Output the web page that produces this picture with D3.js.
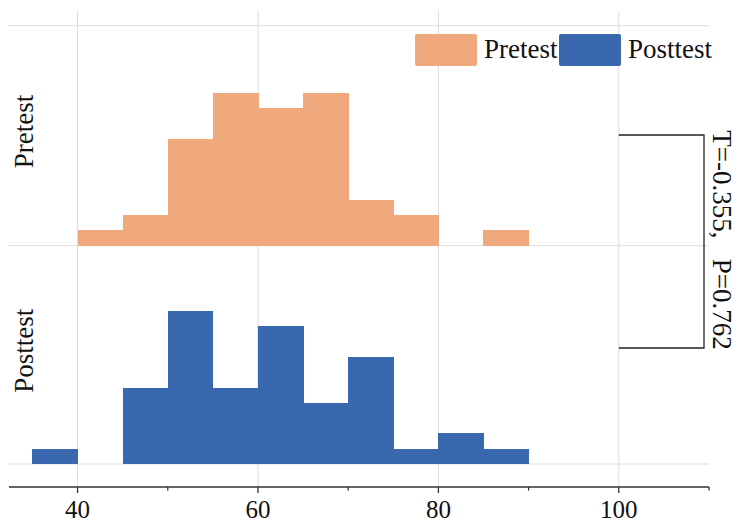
<!DOCTYPE html>
<html>
<head>
<meta charset="utf-8">
<script src="https://cdn.jsdelivr.net/npm/d3@7"></script>
<style>
  html, body { margin: 0; padding: 0; background: #fff; }
  svg { display: block; }
  text { font-family: "Liberation Serif", "Times New Roman", serif; fill: #111; }
</style>
</head>
<body>
<svg id="chart" width="737" height="524"></svg>
<script>
// Histogram bins (lower edges, width 5) and counts per group
const binStarts = [35, 40, 45, 50, 55, 60, 65, 70, 75, 80, 85];
const binWidth = 5;
const pretestCounts  = [0, 1, 2, 7, 10, 9, 10, 3, 2, 0, 1];
const posttestCounts = [1, 0, 5, 10, 5, 9, 4, 7, 1, 2, 1];
const groups = ["Pretest", "Posttest"];
const colors = ["#EFA97C", "#3A68AF"];
const xTicks = [40, 60, 80, 100];
const xMinorTicks = [50, 70, 90, 110];
const statText = "T=-0.355,   P=0.762";

const svg = d3.select("#chart");

const x = d3.scaleLinear().domain([32.4, 110]).range([9, 709]);
const left = 8, right = 709;

// two stacked panels sharing the x axis
const panelTop = [25.7, 245.7];
const panelBottom = [245.7, 464];
const yMax = 14.38;
const yScales = panelTop.map((t, i) =>
  d3.scaleLinear().domain([0, yMax]).range([panelBottom[i], panelBottom[i] - (panelBottom[0] - panelTop[0])]));

// grid
const grid = svg.append("g").attr("stroke", "#dcdcdc").attr("stroke-width", 1);
xTicks.forEach(t => {
  grid.append("line").attr("x1", x(t)).attr("x2", x(t)).attr("y1", 11).attr("y2", 487);
});
[panelTop[0], panelBottom[0], panelBottom[1]].forEach(y => {
  grid.append("line").attr("x1", left).attr("x2", right).attr("y1", y).attr("y2", y);
});

// histograms
[pretestCounts, posttestCounts].forEach((counts, i) => {
  const y = yScales[i];
  svg.append("g").attr("shape-rendering", "crispEdges").selectAll("rect")
    .data(binStarts.map((b, j) => ({ b, c: counts[j] })))
    .join("rect")
    .attr("x", d => x(d.b))
    .attr("width", d => x(d.b + binWidth) - x(d.b) + 0.6)
    .attr("y", d => y(d.c))
    .attr("height", d => y(0) - y(d.c))
    .attr("fill", colors[i]);
});

// x axis
const axis = svg.append("g").attr("transform", "translate(0,487)");
axis.append("line").attr("x1", 9).attr("x2", 709).attr("y1", 0).attr("y2", 0)
  .attr("stroke", "#333").attr("stroke-width", 1.3);
axis.selectAll(".major").data(xTicks).join("line")
  .attr("x1", d => x(d)).attr("x2", d => x(d)).attr("y1", 0).attr("y2", 6)
  .attr("stroke", "#333").attr("stroke-width", 1.3);
axis.selectAll(".minor").data(xMinorTicks).join("line")
  .attr("x1", d => x(d)).attr("x2", d => x(d)).attr("y1", 0).attr("y2", 3.5)
  .attr("stroke", "#333").attr("stroke-width", 1.3);
axis.selectAll("text").data(xTicks).join("text")
  .attr("x", d => x(d)).attr("y", 31)
  .attr("text-anchor", "middle")
  .style("font-size", "25px")
  .text(d => d);

// panel labels
const labelCenters = [131.5, 350.7];
groups.forEach((g, i) => {
  svg.append("text")
    .attr("transform", `translate(33,${labelCenters[i]}) rotate(-90)`)
    .attr("text-anchor", "middle")
    .style("font-size", "27px")
    .text(g);
});

// legend
const legend = svg.append("g");
const legendX = [415, 559];
groups.forEach((g, i) => {
  legend.append("rect")
    .attr("x", legendX[i]).attr("y", 34).attr("width", 62).attr("height", 32)
    .attr("rx", 2).attr("fill", colors[i]);
  legend.append("text")
    .attr("x", legendX[i] + 69).attr("y", 58)
    .style("font-size", "27px")
    .text(g);
});

// significance bracket
svg.append("path")
  .attr("d", `M${x(100)},135 H704 V348 H${x(100)}`)
  .attr("fill", "none").attr("stroke", "#222").attr("stroke-width", 1.3);
svg.append("text")
  .attr("transform", "translate(713,240) rotate(90)")
  .attr("text-anchor", "middle")
  .style("font-size", "27px")
  .style("white-space", "pre")
  .attr("xml:space", "preserve")
  .text(statText);
</script>
</body>
</html>
